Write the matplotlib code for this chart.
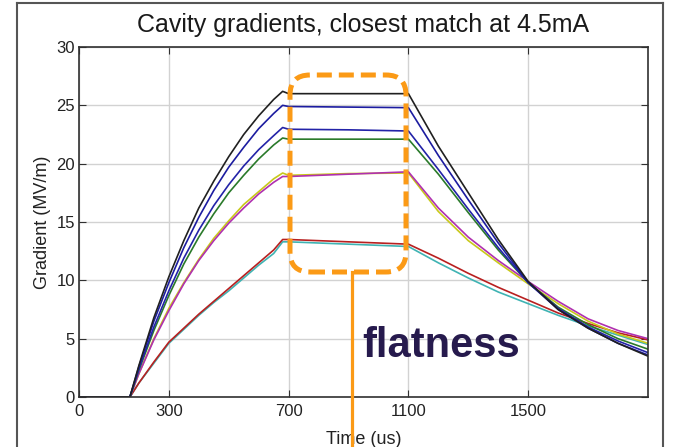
import matplotlib
matplotlib.use("Agg")
import matplotlib.pyplot as plt
from matplotlib.patches import FancyBboxPatch
from matplotlib.lines import Line2D

plt.rcParams['font.family'] = ['Liberation Sans', 'DejaVu Sans']

# time axis (us)
t = [0, 170, 200, 250, 300, 350, 400, 450, 500, 550, 600, 650, 680, 700, 900, 1100,
     1200, 1300, 1400, 1500, 1600, 1700, 1800, 1900]

# cavity gradients (MV/m)
g_black   = [0, 0, 2.7, 6.8, 10.3, 13.4, 16.2, 18.5, 20.6, 22.5, 24.1, 25.5, 26.2, 26.0, 26.0, 26.0,
             21.5, 17.5, 13.5, 9.9, 7.5, 5.9, 4.6, 3.5]
g_blue1   = [0, 0, 2.6, 6.5, 9.8, 12.8, 15.4, 17.7, 19.7, 21.4, 23.0, 24.3, 25.0, 24.9, 24.85, 24.8,
             20.7, 16.9, 13.2, 9.8, 7.5, 5.9, 4.6, 3.6]
g_blue2   = [0, 0, 2.4, 6.0, 9.1, 11.9, 14.3, 16.4, 18.2, 19.8, 21.2, 22.4, 23.1, 22.95, 22.9, 22.8,
             19.5, 16.1, 12.8, 9.8, 7.6, 6.0, 4.8, 3.8]
g_green   = [0, 0, 2.3, 5.7, 8.7, 11.4, 13.7, 15.7, 17.5, 19.0, 20.4, 21.6, 22.2, 22.1, 22.1, 22.1,
             19.1, 15.8, 12.6, 9.8, 7.7, 6.2, 5.0, 4.1]
g_yellow  = [0, 0, 2.0, 5.0, 7.6, 9.8, 11.8, 13.6, 15.1, 16.5, 17.6, 18.7, 19.2, 19.0, 19.15, 19.2,
             15.9, 13.4, 11.5, 9.7, 8.0, 6.5, 5.4, 4.6]
g_magenta = [0, 0, 2.0, 4.9, 7.4, 9.7, 11.7, 13.4, 14.9, 16.2, 17.4, 18.4, 18.9, 18.9, 19.1, 19.3,
             16.2, 13.7, 11.7, 9.9, 8.2, 6.7, 5.7, 5.0]
g_red     = [0, 0, 1.2, 3.0, 4.7, 5.9, 7.1, 8.2, 9.3, 10.4, 11.5, 12.6, 13.5, 13.5, 13.3, 13.1,
             11.9, 10.6, 9.4, 8.3, 7.2, 6.3, 5.5, 4.9]
g_cyan    = [0, 0, 1.2, 2.9, 4.6, 5.8, 7.0, 8.1, 9.1, 10.2, 11.3, 12.3, 13.3, 13.3, 13.1, 12.9,
             11.5, 10.2, 9.0, 8.0, 7.0, 6.1, 5.3, 4.5]

series = [
    (g_cyan, '#3fb3b3'),
    (g_red, '#b82020'),
    (g_yellow, '#c8c81a'),
    (g_magenta, '#b030b0'),
    (g_green, '#2a7a2a'),
    (g_blue2, '#2323a8'),
    (g_blue1, '#1c1ca0'),
    (g_black, '#202020'),
]

fig = plt.figure(figsize=(6.73, 4.47), dpi=100)
ax = fig.add_axes([79 / 673, 50 / 447, 569 / 673, 350 / 447])

for vals, col in series:
    ax.plot(t, vals, color=col, lw=1.2)

ax.set_xlim(0, 1900)
ax.set_ylim(0, 30)
ax.set_xticks([0, 300, 700, 1100, 1500])
ax.set_yticks([0, 5, 10, 15, 20, 25, 30])
ax.grid(True, color='#d2d2d2', lw=1.0)
ax.set_axisbelow(True)
ax.tick_params(direction='in', length=5, top=True, right=True, labelsize=12,
               color='#303030', labelcolor='#222222', pad=3)
ax.tick_params(axis='x', pad=5)
for s in ax.spines.values():
    s.set_color('#303030')
    s.set_linewidth(1.2)

ax.set_title('Cavity gradients, closest match at 4.5mA', fontsize=18, pad=11, color='#1a1a1a')
ax.set_xlabel('Time (us)', fontsize=13, labelpad=9, color='#222222')
ax.set_ylabel('Gradient (MV/m)', fontsize=13, labelpad=4, color='#222222')

# outer frame of the slide
frame_col = '#555555'
fig.add_artist(Line2D([17 / 673, 17 / 673], [0, 1 - 3 / 447], transform=fig.transFigure,
                      color=frame_col, lw=1.5))
fig.add_artist(Line2D([17 / 673, 663 / 673], [1 - 3 / 447, 1 - 3 / 447], transform=fig.transFigure,
                      color=frame_col, lw=1.5))
fig.add_artist(Line2D([663 / 673, 663 / 673], [0, 1 - 3 / 447], transform=fig.transFigure,
                      color=frame_col, lw=1.5))

# orange "flatness" callout
orange = '#fb9a16'
box = FancyBboxPatch((2.90, 1.75), 1.16, 1.97,
                     boxstyle='round,pad=0,rounding_size=0.2',
                     transform=fig.dpi_scale_trans, fill=False,
                     edgecolor=orange, lw=3.6, linestyle=(0, (3.0, 1.4)))
fig.add_artist(box)
fig.add_artist(Line2D([352 / 673, 352 / 673], [0, 175 / 447], transform=fig.transFigure,
                      color=orange, lw=2.3))
fig.text(362 / 673, 90 / 447, 'flatness', fontsize=30, fontweight='bold',
         color='#261a4d', va='baseline', ha='left')

fig.savefig('out.png', dpi=100)
